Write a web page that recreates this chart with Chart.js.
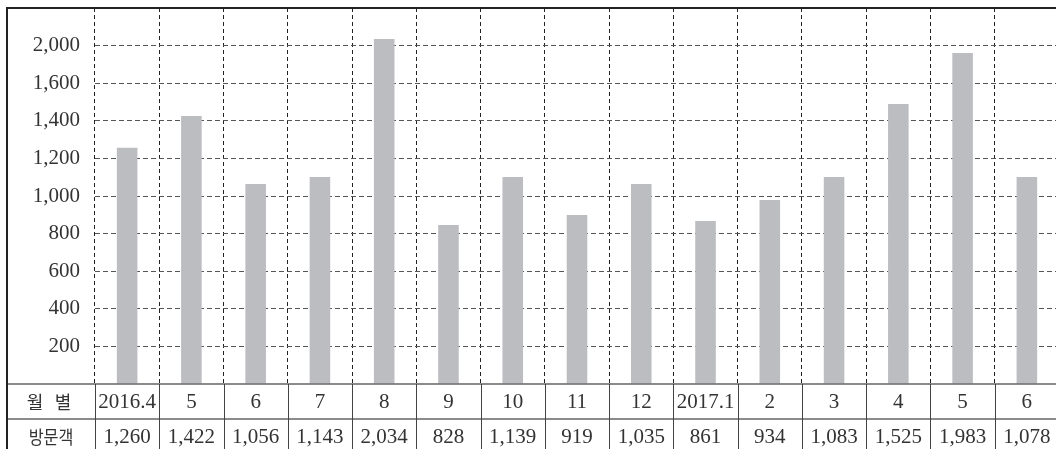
<!DOCTYPE html>
<html lang="ko">
<head>
<meta charset="utf-8">
<title>월별 방문객</title>
<script src="https://cdn.jsdelivr.net/npm/chart.js@4.4.0/dist/chart.umd.min.js"></script>
<style>
    html, body { margin: 0; padding: 0; overflow: hidden; background: #fff; }
    canvas { display: block; }
</style>
</head>
<body>
<canvas id="visitChart" width="1059" height="449"></canvas>
<script>
// 월별 (표의 첫째 줄)
const months = ['2016.4', '5', '6', '7', '8', '9', '10', '11', '12', '2017.1', '2', '3', '4', '5', '6'];
// 방문객 (표의 둘째 줄)
const visitors = ['1,260', '1,422', '1,056', '1,143', '2,034', '828', '1,139', '919', '1,035', '861', '934', '1,083', '1,525', '1,983', '1,078'];
// 막대 높이 - 그림에서 읽은 값 (8월, 2017.5는 표보다 짧게 그려져 있음)
const barLevels = [1257, 1426, 1064, 1101, 1835, 846, 1101, 899, 1064, 867, 979, 1101, 1489, 1760, 1101];
// y축 눈금 글자 (0 ~ 2000, 200 간격) - 원본 그대로 1,800 자리에 2,000
const yTickLabels = ['', '200', '400', '600', '800', '1,000', '1,200', '1,400', '1,600', '2,000', ''];

const TEXT = '#333';
const SERIF = '"Liberation Serif", "DejaVu Serif", serif';
const KOREAN = '"Noto Sans CJK KR", sans-serif';

// 아래쪽 표와 테두리 그리기
const tablePlugin = {
    id: 'tablePlugin',
    afterDraw(chart) {
        const ctx = chart.ctx;
        const x = chart.scales.x;
        const area = chart.chartArea;
        const rowTop = area.bottom;
        const rowMid = rowTop + 35;
        const bottom = chart.height;
        const step = x.getPixelForValue(1) - x.getPixelForValue(0);

        ctx.save();
        // 표 가로줄
        ctx.strokeStyle = '#666';
        ctx.lineWidth = 1.5;
        ctx.beginPath();
        ctx.moveTo(7, rowTop); ctx.lineTo(chart.width, rowTop);
        ctx.moveTo(7, rowMid); ctx.lineTo(chart.width, rowMid);
        ctx.stroke();

        // 표 세로줄
        ctx.strokeStyle = '#444';
        ctx.lineWidth = 1;
        ctx.beginPath();
        for (let i = 0; i <= months.length; i++) {
            const px = Math.round(x.getPixelForValue(i) - step / 2) + 0.5;
            ctx.moveTo(px, rowTop); ctx.lineTo(px, bottom);
        }
        ctx.stroke();

        // 위, 왼쪽 굵은 테두리
        ctx.strokeStyle = '#222';
        ctx.lineWidth = 2;
        ctx.beginPath();
        ctx.moveTo(6, 8); ctx.lineTo(chart.width, 8);
        ctx.moveTo(7, 7); ctx.lineTo(7, bottom);
        ctx.stroke();

        // 글자
        ctx.fillStyle = TEXT;
        ctx.textAlign = 'center';
        ctx.textBaseline = 'middle';
        const y1 = rowTop + 18;
        const y2 = rowMid + 18;

        ctx.font = '18px ' + KOREAN;
        ctx.fillText('월', 35, y1);
        ctx.fillText('별', 63, y1);

        ctx.save();
        ctx.translate(51, y2);
        ctx.scale(0.9, 1);
        ctx.font = '18px ' + KOREAN;
        ctx.fillText('방문객', 0, 0);
        ctx.restore();

        ctx.font = '21px ' + SERIF;
        months.forEach((m, i) => {
            ctx.fillText(m, x.getPixelForValue(i), y1);
            ctx.fillText(visitors[i], x.getPixelForValue(i), y2);
        });
        ctx.restore();
    }
};

new Chart(document.getElementById('visitChart'), {
    type: 'bar',
    data: {
        labels: months,
        datasets: [{
            label: '방문객',
            data: barLevels,
            backgroundColor: '#bcbdc0',
            borderWidth: 0,
            barPercentage: 0.32,
            categoryPercentage: 1
        }]
    },
    options: {
        responsive: false,
        devicePixelRatio: 1,
        animation: false,
        layout: { padding: { top: 8, bottom: 65, left: 0, right: 0 } },
        plugins: {
            legend: { display: false },
            tooltip: { enabled: false }
        },
        scales: {
            x: {
                offset: true,
                ticks: { display: false },
                grid: {
                    offset: true,
                    drawTicks: false,
                    color: '#222',
                    lineWidth: 1
                },
                border: { display: false, dash: [4, 3] },
                afterFit: s => { s.height = 0; s.paddingLeft = 0; s.paddingRight = 0; }
            },
            y: {
                min: 0,
                max: 2000,
                ticks: {
                    stepSize: 200,
                    padding: 15,
                    color: TEXT,
                    font: { family: SERIF, size: 21 },
                    callback: (v, i) => yTickLabels[i]
                },
                grid: {
                    drawTicks: false,
                    lineWidth: 1,
                    color: c => (c.tick && (c.tick.value === 0 || c.tick.value === 2000)) ? 'rgba(0,0,0,0)' : '#555'
                },
                border: { display: false, dash: [5, 3] },
                afterFit: s => { s.width = 95; s.paddingTop = 0; s.paddingBottom = 0; }
            }
        }
    },
    plugins: [tablePlugin]
});
</script>
</body>
</html>
